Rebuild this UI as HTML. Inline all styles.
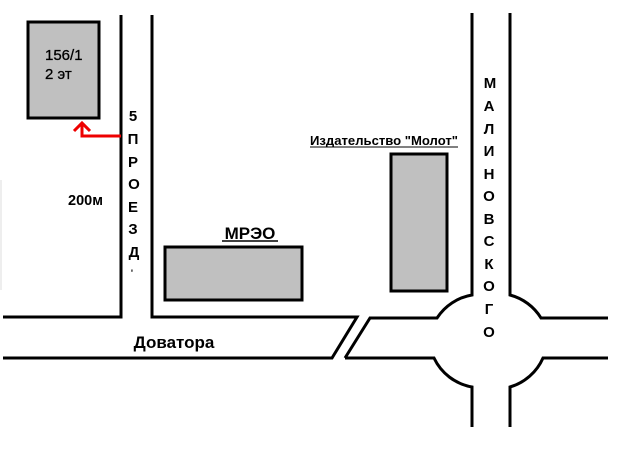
<!DOCTYPE html>
<html><head><meta charset="utf-8"><style>
html,body{margin:0;padding:0;background:#fff}
svg{display:block}
text{font-family:"Liberation Sans",sans-serif;fill:#000}
</style></head><body>
<svg width="623" height="457" viewBox="0 0 623 457" xmlns="http://www.w3.org/2000/svg">
<rect width="623" height="457" fill="#fff"/>
<g stroke="#000" stroke-width="3" fill="none">
<rect x="28" y="22" width="71" height="96" fill="#c0c0c0"/>
<rect x="165" y="247" width="137" height="53" fill="#c0c0c0"/>
<rect x="391" y="154" width="56" height="137" fill="#c0c0c0"/>
<polyline points="121,15 121,317 3,317"/>
<polyline points="152,15 152,317 357,317 332,358 3,358"/>
<path d="M345,358 L370,318 L437,318 A52,52 0 0 1 472,295 L472,13"/>
<path d="M510,13 L510,295 A52,52 0 0 1 541,318 L608,318"/>
<path d="M345,358 L434,358 A52,52 0 0 0 472,387 L472,427"/>
<path d="M510,427 L510,387 A52,52 0 0 0 543,358 L608,358"/>
</g>
<line x1="1" y1="180" x2="1" y2="290" stroke="#ddd" stroke-width="1"/>
<g stroke="#e00" stroke-width="3" fill="none">
<polyline points="121,136 82,136 82,124"/>
<polyline points="74,131 82,123 90,131"/>
</g>
<text x="45" y="60" font-size="15" stroke="#000" stroke-width="0.3">156/1</text>
<text x="45" y="79" font-size="15" stroke="#000" stroke-width="0.3">2 эт</text>
<text x="68" y="205" font-size="14.5" font-weight="bold">200м</text>
<g font-size="15" font-weight="bold" text-anchor="middle">
<text x="133" y="121">5</text><text x="133" y="144">П</text><text x="133" y="167">Р</text><text x="134" y="189">О</text><text x="133" y="212">Е</text><text x="133" y="234">З</text><text x="134" y="257">Д</text><text x="132" y="276" font-size="9">'</text>
</g>
<g font-size="15" font-weight="bold" text-anchor="middle">
<text x="490" y="88">М</text><text x="489" y="111">А</text><text x="489" y="134">Л</text><text x="489" y="156">И</text><text x="489" y="179">Н</text><text x="489" y="201">О</text><text x="489" y="224">В</text><text x="489" y="246">С</text><text x="489" y="269">К</text><text x="489" y="291">О</text><text x="489" y="314">Г</text><text x="489" y="337">О</text>
</g>
<text x="250" y="239" font-size="17" font-weight="bold" text-anchor="middle">МРЭО</text>
<line x1="222" y1="241" x2="278" y2="241" stroke="#000" stroke-width="1.5"/>
<text x="310" y="145" font-size="13" font-weight="bold" textLength="148" lengthAdjust="spacingAndGlyphs">Издательство "Молот"</text>
<line x1="310" y1="147" x2="458" y2="147" stroke="#000" stroke-width="1"/>
<text x="174" y="348" font-size="17" font-weight="bold" text-anchor="middle">Доватора</text>
</svg>
</body></html>
